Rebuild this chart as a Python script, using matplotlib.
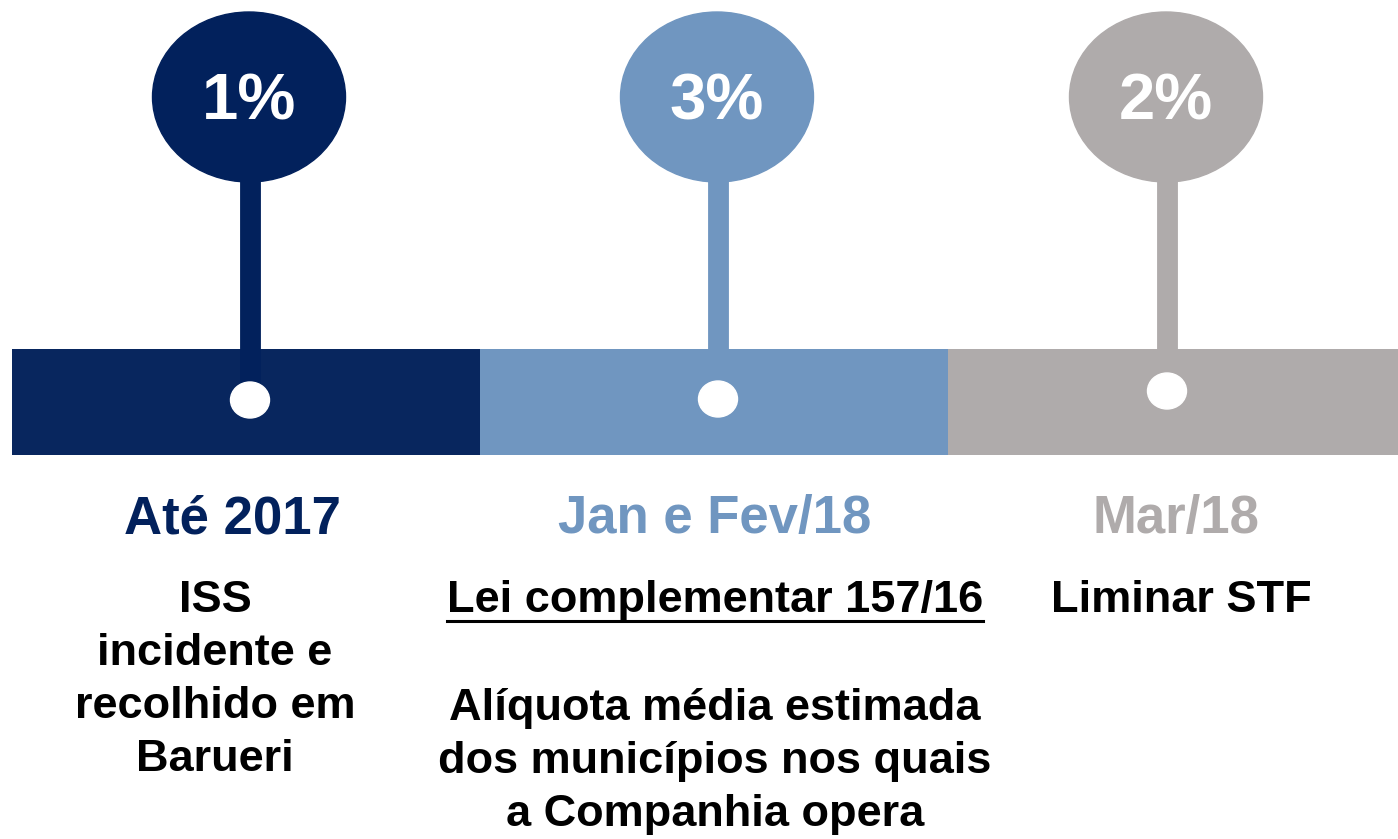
import matplotlib.pyplot as plt
from matplotlib.patches import Ellipse

plt.rcParams['font.family'] = ['Liberation Sans', 'DejaVu Sans']

pcts = ["1%", "3%", "2%"]
periods = ["Até 2017", "Jan e Fev/18", "Mar/18"]
headings = ["ISS\nincidente e\nrecolhido em\nBarueri", "Lei complementar 157/16", "Liminar STF"]
notes = ["", "Alíquota média estimada\ndos municípios nos quais\na Companhia opera", ""]
underline = [False, True, False]

bar_colors = ["#08265E", "#7096C0", "#AFABAB"]
balloon_colors = ["#02215C", "#7096C0", "#AFABAB"]
seg_left = [12, 480, 948]
seg_right = [480, 948, 1398]
pin_x = [250, 718, 1167]
dot_y = [400, 399, 391]
period_x = [232, 715, 1176]
text_x = [215, 715, 1181]

W, H = 1398, 839
fig = plt.figure(figsize=(W / 100, H / 100), dpi=100)
ax = fig.add_axes([0, 0, 1, 1])
ax.set_xlim(0, W)
ax.set_ylim(H, 0)
ax.axis('off')

bar_top, bar_bot = 349, 455
for i in range(3):
    ax.bar(seg_left[i], bar_bot - bar_top, width=seg_right[i] - seg_left[i],
           bottom=bar_top, align='edge', color=bar_colors[i], zorder=1)

for i in range(3):
    # stem
    stem_bottom = dot_y[i] if i == 0 else bar_top
    ax.plot([pin_x[i], pin_x[i]], [170, stem_bottom], color=balloon_colors[i],
            lw=15, solid_capstyle='butt', zorder=2)
    ax.add_patch(Ellipse((pin_x[i] - 1, 97), 193, 170, color=balloon_colors[i], zorder=3))
    ax.text(pin_x[i] - 1, 102, pcts[i], color='white', fontsize=47, fontweight='bold',
            ha='center', va='center', zorder=4)
    ax.add_patch(Ellipse((pin_x[i], dot_y[i]), 39, 36, color='white', zorder=4))

    ax.text(period_x[i], 519, periods[i], color=bar_colors[i] if i else balloon_colors[i],
            fontsize=38, fontweight='bold', ha='center', va='center')

    t = ax.text(text_x[i], 580, headings[i], color='black', fontsize=32.5,
                fontweight='bold', ha='center', va='top', linespacing=1.37)
    if notes[i]:
        ax.text(text_x[i], 688, notes[i], color='black', fontsize=32.5,
                fontweight='bold', ha='center', va='top', linespacing=1.37)
    if underline[i]:
        fig.canvas.draw()
        bb = t.get_window_extent().transformed(ax.transData.inverted())
        ax.plot([bb.x0, bb.x1], [621, 621], color='black', lw=2.2)

fig.savefig("out.png", dpi=100)
